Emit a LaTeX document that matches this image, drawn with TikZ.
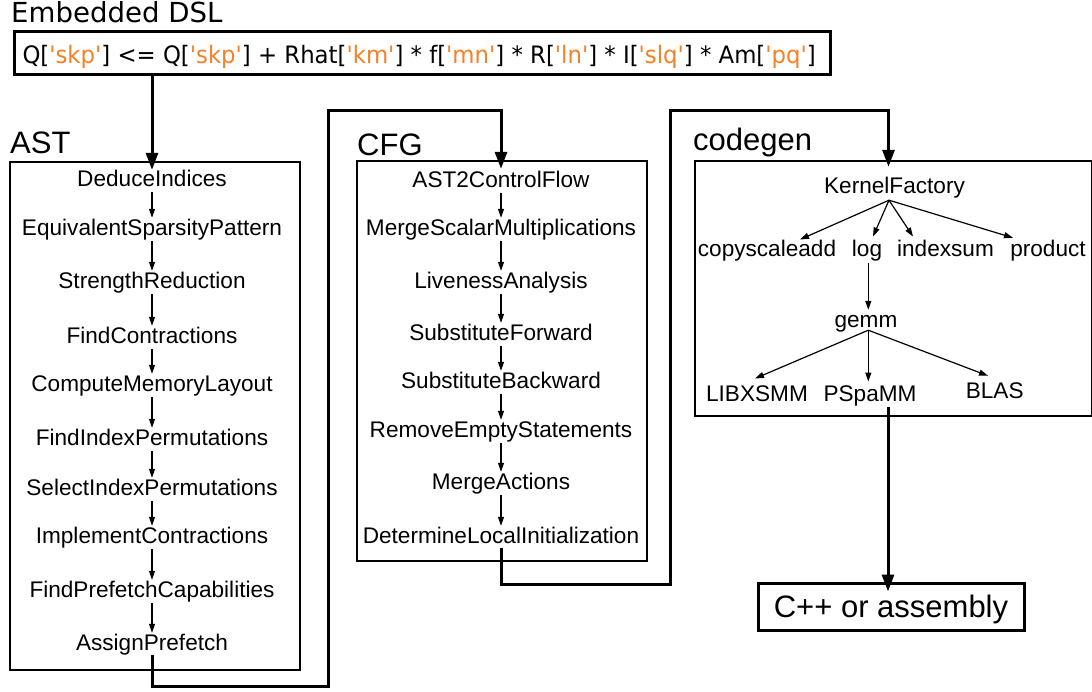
\documentclass[tikz,border=0pt]{standalone}
\usepackage{fontspec}
\setmainfont{Liberation Sans}
\newfontfamily\dejavu{DejaVu Sans}[Ligatures=TeXOff]
\newfontfamily\dejavucond{DejaVu Sans}[Ligatures=TeXOff, FakeStretch=0.95]
\usetikzlibrary{arrows.meta}
\definecolor{strorange}{RGB}{245,128,37}
\newcommand{\str}[1]{\textcolor{strorange}{'#1'}}
\begin{document}
\begin{tikzpicture}[x=1pt,y=-1pt,
  container/.style={draw, line width=2pt, anchor=north west, inner sep=0pt},
  pass/.style={font=\fontsize{22.6}{26}\selectfont, inner sep=0pt, text height=16pt, text depth=5pt, anchor=base},
  grouptitle/.style={font=\fontsize{31}{35}\selectfont, anchor=base west, inner sep=0pt},
  thinarrow/.style={-{Triangle[length=9pt,width=6pt]}, line width=1.2pt},
  flow/.style={-{Triangle[length=17pt,width=12pt]}, line width=3pt}
]
\useasboundingbox (0,0) rectangle (1092,691);

% Embedded DSL
\node[font=\dejavu\fontsize{27.6}{31}\selectfont, anchor=base west, inner sep=0pt] (dsltitle) at (11,22) {Embedded DSL};
\node[draw, line width=3pt, anchor=north west, minimum width=816pt, minimum height=43pt,
      inner xsep=0pt, inner ysep=0pt, text height=24pt, text depth=3pt,
      font=\dejavucond\fontsize{24}{28}\selectfont] (dsl) at (13,30)
  {\makebox[800pt][l]{Q[\str{skp}] <= Q[\str{skp}] + Rhat[\str{km}] * f[\str{mn}] * R[\str{ln}] * I[\str{slq}] * Am[\str{pq}]}};

% AST
\node[grouptitle] (asttitle) at (10,153) {AST};
\node[container, minimum width=290pt, minimum height=508pt] (astbox) at (9,161) {};
\node[pass] (a1) at (152,186) {DeduceIndices};
\node[pass] (a2) at (152,235) {EquivalentSparsityPattern};
\node[pass] (a3) at (152,288) {StrengthReduction};
\node[pass] (a4) at (152,343) {FindContractions};
\node[pass] (a5) at (152,391) {ComputeMemoryLayout};
\node[pass] (a6) at (152,445) {FindIndexPermutations};
\node[pass] (a7) at (152,495) {SelectIndexPermutations};
\node[pass] (a8) at (152,543) {ImplementContractions};
\node[pass] (a9) at (152,597) {FindPrefetchCapabilities};
\node[pass] (a10) at (152,650) {AssignPrefetch};
\foreach \i/\j in {a1/a2,a2/a3,a3/a4,a4/a5,a5/a6,a6/a7,a7/a8,a8/a9,a9/a10}
  \draw[thinarrow, shorten <=1pt, shorten >=1pt] (\i.south) -- (\j.north);

% CFG
\node[grouptitle] (cfgtitle) at (357,155) {CFG};
\node[container, minimum width=290pt, minimum height=400pt] (cfgbox) at (356,160) {};
\node[pass] (c1) at (501,187) {AST2ControlFlow};
\node[pass] (c2) at (501,235) {MergeScalarMultiplications};
\node[pass] (c3) at (501,288) {LivenessAnalysis};
\node[pass] (c4) at (501,340) {SubstituteForward};
\node[pass] (c5) at (501,388) {SubstituteBackward};
\node[pass] (c6) at (501,437) {RemoveEmptyStatements};
\node[pass] (c7) at (501,489) {MergeActions};
\node[pass] (c8) at (501,543) {DetermineLocalInitialization};
\foreach \i/\j in {c1/c2,c2/c3,c3/c4,c4/c5,c5/c6,c6/c7,c7/c8}
  \draw[thinarrow, shorten <=1pt, shorten >=1pt] (\i.south) -- (\j.north);

% codegen
\node[grouptitle] (cgtitle) at (693,150) {codegen};
\node[container, minimum width=397pt, minimum height=255pt] (cgbox) at (694,160) {};
\node[pass] (kf) at (894.5,193) {KernelFactory};
\node[pass] (csa) at (767,256.7) {copyscaleadd};
\node[pass] (log) at (867,256.7) {log};
\node[pass] (idx) at (945.5,256.7) {indexsum};
\node[pass] (prod) at (1048,256.7) {product};
\node[pass] (gemm) at (866,327) {gemm};
\node[pass] (lib) at (757,401.7) {LIBXSMM};
\node[pass] (psp) at (870,401.7) {PSpaMM};
\node[pass] (blas) at (994.7,398) {BLAS};
\draw[thinarrow] ([xshift=-5.5pt,yshift=-2pt]kf.south) -- ([xshift=33pt,yshift=1pt]csa.north);
\draw[thinarrow] ([xshift=-5.5pt,yshift=-2pt]kf.south) -- ([xshift=6pt,yshift=4pt]log.north);
\draw[thinarrow] ([xshift=-5.5pt,yshift=-2pt]kf.south) -- ([xshift=-32.5pt,yshift=4pt]idx.north);
\draw[thinarrow] ([xshift=-5.5pt,yshift=-2pt]kf.south) -- ([xshift=-35pt,yshift=2.7pt]prod.north);
\draw[thinarrow] ([xshift=1.3pt,yshift=-1pt]log.south) -- ([xshift=2.3pt,yshift=1pt]gemm.north);
\draw[thinarrow] ([xshift=2.3pt,yshift=2pt]gemm.south) -- ([xshift=-2pt,yshift=7pt]lib.north);
\draw[thinarrow] ([xshift=2.3pt,yshift=2pt]gemm.south) -- ([xshift=-1.7pt,yshift=4pt]psp.north);
\draw[thinarrow] ([xshift=2.3pt,yshift=2pt]gemm.south) -- ([xshift=-6.7pt,yshift=6pt]blas.north);

% output
\node[draw, line width=3pt, minimum width=266pt, minimum height=47pt, inner sep=0pt,
      font=\fontsize{31}{35}\selectfont, text height=22pt, text depth=0pt] (cpp) at (891,606.5) {C++ or assembly};

% main flow connectors
\coordinate (bA) at (328,686);
\coordinate (bB) at (328,110.5);
\coordinate (bC) at (670,584);
\coordinate (bD) at (670,110.5);
\draw[flow] (dsl.south -| a1.north) -- (a1.north);
\draw[flow, shorten >=2pt] (a10.south) |- (bA) -- (bB) -| (c1.north);
\draw[flow, shorten >=10pt] (c8.south) |- (bC) -- (bD) -| ([xshift=-6pt]kf.north);
\draw[flow] ([xshift=18pt]psp.south) -- ([xshift=-3pt,yshift=-10pt]cpp.north);
\end{tikzpicture}
\end{document}
